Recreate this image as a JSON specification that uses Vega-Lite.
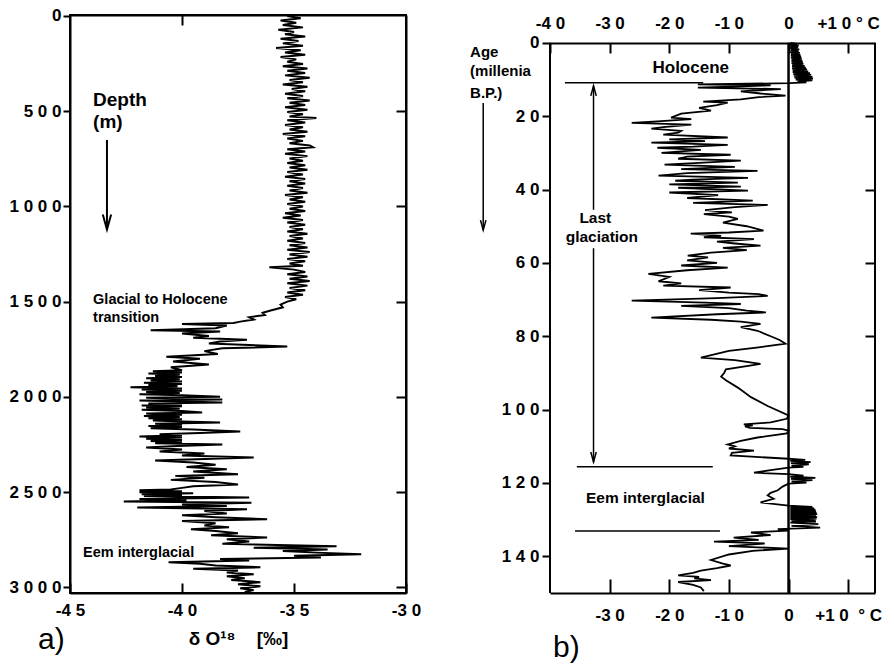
{
  "$schema": "https://vega.github.io/schema/vega-lite/v6.json",
  "background": "white",
  "padding": {"left": 8, "top": 5, "right": 5, "bottom": 2},
  "bounds": "flush",
  "spacing": 144,
  "config": {
    "view": {"stroke": "black", "strokeWidth": 2},
    "axis": {"domainColor": "black", "domainWidth": 2, "tickColor": "black", "tickWidth": 2, "labelColor": "black", "labelFont": "Liberation Sans", "labelFontWeight": "bold", "titleFont": "Liberation Sans", "titleColor": "black", "titleFontWeight": "bold", "grid": false, "labelFlush": false, "labelOverlap": false, "minExtent": 0},
    "text": {"font": "Liberation Sans", "color": "black", "fontWeight": "bold"}
  },
  "hconcat": [
    {
      "width": 336,
      "height": 578,
      "resolve": {"axis": {"x": "independent", "y": "independent"}},
      "layer": [
        {
          "data": {"values": [
            {"depth":0,"d":-35.3},{"depth":12,"d":-34.7},{"depth":24,"d":-35.6},{"depth":36,"d":-34.9},{"depth":48,"d":-35.5},{"depth":60,"d":-34.6},{"depth":72,"d":-35.7},{"depth":84,"d":-35.0},{"depth":96,"d":-35.4},{"depth":108,"d":-34.5},{"depth":120,"d":-35.6},{"depth":132,"d":-34.8},{"depth":144,"d":-35.5},{"depth":156,"d":-34.6},{"depth":168,"d":-35.8},{"depth":180,"d":-34.7},{"depth":192,"d":-35.4},{"depth":204,"d":-34.5},{"depth":216,"d":-35.6},{"depth":228,"d":-34.9},{"depth":240,"d":-35.3},{"depth":252,"d":-34.6},{"depth":264,"d":-35.5},{"depth":276,"d":-34.4},{"depth":288,"d":-35.3},
            {"depth":300,"d":-34.5},{"depth":312,"d":-35.4},{"depth":324,"d":-34.3},{"depth":336,"d":-35.2},{"depth":348,"d":-34.6},{"depth":360,"d":-35.5},{"depth":372,"d":-34.4},{"depth":384,"d":-35.1},{"depth":396,"d":-34.5},{"depth":408,"d":-35.4},{"depth":420,"d":-34.6},{"depth":432,"d":-35.3},{"depth":444,"d":-34.3},{"depth":456,"d":-35.2},{"depth":468,"d":-34.5},{"depth":480,"d":-35.4},{"depth":492,"d":-34.4},{"depth":504,"d":-35.3},{"depth":516,"d":-34.6},{"depth":528,"d":-35.2},{"depth":536,"d":-34.0},{"depth":548,"d":-35.3},{"depth":560,"d":-34.5},{"depth":572,"d":-35.4},{"depth":584,"d":-34.6},{"depth":596,"d":-35.2},{"depth":608,"d":-34.4},{"depth":620,"d":-35.5},{"depth":632,"d":-34.5},{"depth":644,"d":-35.3},{"depth":656,"d":-34.6},{"depth":668,"d":-35.2},{"depth":680,"d":-34.3},{"depth":690,"d":-34.15},{"depth":700,"d":-35.3},{"depth":712,"d":-34.5},{"depth":724,"d":-35.4},{"depth":736,"d":-34.4},{"depth":748,"d":-35.2},{"depth":760,"d":-34.6},{"depth":772,"d":-35.3},{"depth":784,"d":-34.5},{"depth":796,"d":-35.2},{"depth":808,"d":-34.4},{"depth":820,"d":-35.3},{"depth":832,"d":-34.6},{"depth":844,"d":-35.4},{"depth":856,"d":-34.5},{"depth":868,"d":-35.2},{"depth":880,"d":-34.5},{"depth":892,"d":-35.3},{"depth":904,"d":-34.6},{"depth":916,"d":-35.2},{"depth":928,"d":-34.4},{"depth":940,"d":-35.4},{"depth":952,"d":-34.6},{"depth":964,"d":-35.2},{"depth":976,"d":-34.5},{"depth":988,"d":-35.3},{"depth":1000,"d":-34.6},{"depth":1012,"d":-35.2},{"depth":1024,"d":-34.5},{"depth":1036,"d":-35.4},{"depth":1048,"d":-34.7},{"depth":1060,"d":-35.5},{"depth":1072,"d":-34.6},{"depth":1084,"d":-35.3},{"depth":1096,"d":-34.5},{"depth":1108,"d":-35.2},{"depth":1120,"d":-34.6},{"depth":1132,"d":-35.3},{"depth":1144,"d":-34.4},{"depth":1156,"d":-35.2},{"depth":1168,"d":-34.6},{"depth":1180,"d":-35.3},{"depth":1192,"d":-34.5},{"depth":1204,"d":-35.2},{"depth":1216,"d":-34.4},{"depth":1228,"d":-35.3},{"depth":1240,"d":-34.3},{"depth":1252,"d":-35.2},{"depth":1264,"d":-34.4},{"depth":1276,"d":-35.3},{"depth":1288,"d":-34.5},{"depth":1300,"d":-35.2},{"depth":1312,"d":-34.6},{"depth":1320,"d":-36.1},{"depth":1332,"d":-35.0},{"depth":1344,"d":-34.5},{"depth":1356,"d":-35.3},{"depth":1368,"d":-34.4},{"depth":1380,"d":-35.2},{"depth":1392,"d":-34.3},{"depth":1404,"d":-35.3},{"depth":1416,"d":-34.4},{"depth":1428,"d":-35.2},{"depth":1440,"d":-34.5},{"depth":1452,"d":-35.3},{"depth":1464,"d":-34.6},{"depth":1476,"d":-35.4},{"depth":1488,"d":-34.9},{"depth":1500,"d":-35.3},{"depth":1516,"d":-35.6},{"depth":1530,"d":-35.5},{"depth":1545,"d":-36.0},{"depth":1558,"d":-36.4},{"depth":1570,"d":-36.3},{"depth":1582,"d":-37.0},{"depth":1594,"d":-36.8},{"depth":1605,"d":-37.4},{"depth":1612,"d":-37.7},{"depth":1618,"d":-40.0},{"depth":1625,"d":-38.0},{"depth":1640,"d":-38.5},{"depth":1650,"d":-41.4},{"depth":1657,"d":-38.3},{"depth":1668,"d":-40.0},{"depth":1680,"d":-38.8},{"depth":1690,"d":-39.5},{"depth":1700,"d":-37.1},{"depth":1710,"d":-38.3},{"depth":1720,"d":-38.8},{"depth":1736,"d":-35.3},{"depth":1745,"d":-38.2},{"depth":1760,"d":-39.0},{"depth":1775,"d":-38.4},{"depth":1789,"d":-40.7},{"depth":1800,"d":-39.2},{"depth":1815,"d":-40.4},{"depth":1830,"d":-38.8},{"depth":1845,"d":-40.5},
            {"depth":1860,"d":-40.0},{"depth":1866,"d":-41.3},{"depth":1872,"d":-40.0},{"depth":1878,"d":-41.5},{"depth":1884,"d":-40.1},{"depth":1890,"d":-41.2},{"depth":1896,"d":-40.0},{"depth":1902,"d":-41.6},{"depth":1908,"d":-40.1},{"depth":1914,"d":-41.4},{"depth":1920,"d":-40.0},{"depth":1926,"d":-41.7},{"depth":1932,"d":-40.0},{"depth":1938,"d":-41.5},{"depth":1944,"d":-40.2},{"depth":1950,"d":-42.3},{"depth":1956,"d":-40.0},{"depth":1962,"d":-41.8},{"depth":1968,"d":-40.0},{"depth":1974,"d":-41.6},{"depth":1980,"d":-40.1},{"depth":1986,"d":-41.9},{"depth":1992,"d":-40.0},{"depth":2000,"d":-38.3},{"depth":2005,"d":-41.6},{"depth":2010,"d":-40.0},{"depth":2014,"d":-38.2},{"depth":2019,"d":-41.9},{"depth":2024,"d":-40.0},{"depth":2030,"d":-38.2},{"depth":2035,"d":-41.5},{"depth":2040,"d":-40.0},{"depth":2045,"d":-41.8},{"depth":2050,"d":-40.0},{"depth":2056,"d":-41.6},{"depth":2062,"d":-40.1},{"depth":2068,"d":-41.8},{"depth":2074,"d":-40.0},{"depth":2082,"d":-39.1},{"depth":2088,"d":-41.6},{"depth":2094,"d":-40.0},{"depth":2100,"d":-41.7},{"depth":2106,"d":-40.1},{"depth":2112,"d":-41.5},{"depth":2118,"d":-40.0},{"depth":2124,"d":-41.3},{"depth":2130,"d":-40.0},{"depth":2135,"d":-38.3},{"depth":2141,"d":-41.2},{"depth":2147,"d":-40.0},{"depth":2153,"d":-41.5},{"depth":2159,"d":-40.0},{"depth":2165,"d":-41.4},{"depth":2171,"d":-39.5},{"depth":2182,"d":-37.4},{"depth":2190,"d":-39.2},{"depth":2196,"d":-41.0},{"depth":2202,"d":-40.0},{"depth":2208,"d":-41.9},{"depth":2214,"d":-40.0},{"depth":2220,"d":-41.6},{"depth":2226,"d":-40.0},{"depth":2232,"d":-41.4},{"depth":2238,"d":-40.0},{"depth":2244,"d":-41.2},{"depth":2250,"d":-38.2},{"depth":2258,"d":-40.2},{"depth":2266,"d":-41.6},{"depth":2276,"d":-40.0},{"depth":2287,"d":-41.0},{"depth":2298,"d":-39.0},{"depth":2308,"d":-40.0},{"depth":2318,"d":-36.8},{"depth":2326,"d":-39.0},{"depth":2334,"d":-41.2},{"depth":2345,"d":-39.5},{"depth":2356,"d":-38.5},{"depth":2368,"d":-39.8},{"depth":2380,"d":-38.0},{"depth":2392,"d":-39.5},{"depth":2407,"d":-37.5},{"depth":2415,"d":-40.3},{"depth":2425,"d":-39.0},{"depth":2436,"d":-40.5},{"depth":2447,"d":-38.5},{"depth":2460,"d":-37.5},{"depth":2470,"d":-39.5},{"depth":2478,"d":-40.0},{"depth":2486,"d":-40.5},{"depth":2491,"d":-41.9},{"depth":2496,"d":-40.0},{"depth":2501,"d":-41.9},{"depth":2506,"d":-39.5},{"depth":2511,"d":-41.8},{"depth":2516,"d":-40.0},{"depth":2521,"d":-41.7},{"depth":2528,"d":-37.0},{"depth":2536,"d":-41.9},{"depth":2543,"d":-39.8},{"depth":2549,"d":-42.6},{"depth":2556,"d":-36.9},{"depth":2565,"d":-40.0},{"depth":2573,"d":-38.0},{"depth":2581,"d":-42.0},{"depth":2590,"d":-37.1},{"depth":2600,"d":-39.0},{"depth":2612,"d":-38.0},{"depth":2622,"d":-40.0},{"depth":2632,"d":-38.5},{"depth":2643,"d":-36.2},{"depth":2652,"d":-40.0},{"depth":2664,"d":-38.5},{"depth":2675,"d":-39.0},{"depth":2685,"d":-37.9},{"depth":2695,"d":-39.6},{"depth":2705,"d":-38.5},{"depth":2716,"d":-37.5},{"depth":2727,"d":-38.7},{"depth":2738,"d":-36.2},{"depth":2748,"d":-38.0},{"depth":2760,"d":-37.0},{"depth":2772,"d":-38.2},{"depth":2785,"d":-33.1},{"depth":2792,"d":-36.8},{"depth":2801,"d":-33.5},{"depth":2810,"d":-35.5},{"depth":2818,"d":-34.0},{"depth":2827,"d":-32.0},{"depth":2835,"d":-35.0},{"depth":2843,"d":-33.8},{"depth":2852,"d":-38.3},{"depth":2860,"d":-37.0},{"depth":2869,"d":-40.6},{"depth":2877,"d":-39.2},{"depth":2886,"d":-38.5},{"depth":2895,"d":-36.5},{"depth":2903,"d":-39.5},{"depth":2912,"d":-37.5},{"depth":2922,"d":-38.0},{"depth":2932,"d":-36.8},{"depth":2942,"d":-38.0},{"depth":2952,"d":-37.2},{"depth":2962,"d":-37.8},{"depth":2973,"d":-36.5},{"depth":2984,"d":-37.5},{"depth":2995,"d":-36.5},{"depth":3005,"d":-37.4},{"depth":3015,"d":-36.8},{"depth":3025,"d":-37.2}
          ]},
          "mark": {"type": "line", "color": "black", "strokeWidth": 2},
          "encoding": {
            "x": {"field": "d", "type": "quantitative", "scale": {"domain": [-45, -30], "nice": false, "zero": false},
              "axis": {"orient": "bottom", "values": [-45, -40, -35, -30], "labelExpr": "(datum.value<0?'-':'')+join(split(''+abs(datum.value),''),' ')", "tickSize": -10, "labelPadding": 19, "labelFontSize": 17, "title": "δ\u00a0O¹⁸\u00a0\u00a0\u00a0\u00a0[‰]", "titleFontSize": 19, "titlePadding": 11}},
            "y": {"field": "depth", "type": "quantitative", "scale": {"domain": [-5, 3030], "nice": false, "zero": false, "reverse": true},
              "axis": {"orient": "left", "values": [0, 500, 1000, 1500, 2000, 2500, 3000], "labelExpr": "join(split(''+datum.value,''),' ')", "tickSize": 7, "labelPadding": 2, "labelFontSize": 17, "title": null}},
            "order": {"field": "depth", "type": "quantitative"}
          }
        },
        {
          "data": {"values": [{"d": -43.97, "depth": 441, "label": "Depth"}, {"d": -43.97, "depth": 557, "label": "(m)"}]},
          "mark": {"type": "text", "align": "left", "baseline": "middle", "fontSize": 19},
          "encoding": {
            "x": {"field": "d", "type": "quantitative", "scale": {"domain": [-45, -30], "nice": false, "zero": false},
              "axis": {"orient": "top", "values": [-40], "labels": false, "tickSize": -10, "title": null}},
            "y": {"field": "depth", "type": "quantitative", "scale": {"domain": [-5, 3030], "nice": false, "zero": false, "reverse": true},
              "axis": {"orient": "right", "values": [500, 1000, 1500, 2000, 2500, 3000], "labels": false, "tickSize": -10, "title": null}},
            "text": {"field": "label"}
          }
        },
        {
          "data": {"values": [{"d": -43.97, "depth": 1491, "label": "Glacial to Holocene"}, {"d": -43.97, "depth": 1586, "label": "transition"}, {"d": -44.42, "depth": 2820, "label": "Eem interglacial"}]},
          "mark": {"type": "text", "align": "left", "baseline": "middle", "fontSize": 14.5},
          "encoding": {
            "x": {"field": "d", "type": "quantitative", "axis": null},
            "y": {"field": "depth", "type": "quantitative", "axis": null},
            "text": {"field": "label"}
          }
        },
        {
          "data": {"values": [{"d": -46.43, "depth": 3325, "label": "a)"}]},
          "mark": {"type": "text", "align": "left", "baseline": "alphabetic", "fontSize": 30, "fontWeight": "normal"},
          "encoding": {
            "x": {"field": "d", "type": "quantitative", "axis": null},
            "y": {"field": "depth", "type": "quantitative", "axis": null},
            "text": {"field": "label"}
          }
        },
        {
          "data": {"values": [{"d": -43.35, "depth": 651, "depth2": 1124}]},
          "mark": {"type": "rule", "color": "black", "strokeWidth": 2},
          "encoding": {
            "x": {"field": "d", "type": "quantitative", "axis": null},
            "y": {"field": "depth", "type": "quantitative", "axis": null},
            "y2": {"field": "depth2"}
          }
        },
        {
          "data": {"values": [{"d": -43.35, "depth": 1082}]},
          "mark": {"type": "point", "shape": "M-0.55,-1L0,1L0.55,-1", "filled": false, "stroke": "black", "strokeWidth": 2, "size": 230, "opacity": 1},
          "encoding": {
            "x": {"field": "d", "type": "quantitative", "axis": null},
            "y": {"field": "depth", "type": "quantitative", "axis": null}
          }
        }
      ]
    },
    {
      "width": 325,
      "height": 578,
      "view": {"stroke": null},
      "resolve": {"axis": {"x": "independent", "y": "independent"}},
      "layer": [
        {
          "data": {"values": [
            {"age":0,"t":0.3},{"age":0.25,"t":1.5},{"age":0.5,"t":0.2},{"age":0.75,"t":1.7},{"age":1.0,"t":0.3},{"age":1.25,"t":1.6},{"age":1.5,"t":0.3},{"age":1.75,"t":1.8},{"age":2.0,"t":0.4},{"age":2.25,"t":1.7},{"age":2.5,"t":0.3},{"age":2.75,"t":1.9},{"age":3.0,"t":0.4},{"age":3.25,"t":2.0},{"age":3.5,"t":0.4},{"age":3.75,"t":2.1},{"age":4.0,"t":0.4},{"age":4.25,"t":2.2},{"age":4.5,"t":0.5},{"age":4.75,"t":2.3},{"age":5.0,"t":0.5},{"age":5.25,"t":2.4},{"age":5.5,"t":0.5},{"age":5.75,"t":2.5},{"age":6.0,"t":0.6},{"age":6.25,"t":2.7},{"age":6.5,"t":0.6},{"age":6.75,"t":2.9},{"age":7.0,"t":0.6},{"age":7.25,"t":3.1},{"age":7.5,"t":0.7},{"age":7.75,"t":3.3},{"age":8.0,"t":0.7},{"age":8.25,"t":3.6},{"age":8.5,"t":0.8},{"age":8.75,"t":3.8},{"age":9.0,"t":0.9},{"age":9.25,"t":4.0},{"age":9.5,"t":1.0},{"age":9.75,"t":4.1},{"age":10.0,"t":1.2},{"age":10.25,"t":4.0},{"age":10.5,"t":1.5},{"age":10.75,"t":3.0},{"age":11.0,"t":0.2},
            {"age":11.3,"t":-15.2},{"age":11.6,"t":-3},{"age":12.2,"t":-15.2},{"age":12.6,"t":-1.3},{"age":13.2,"t":-8},{"age":13.8,"t":-4.7},{"age":14.4,"t":-0.5},{"age":14.8,"t":-5},{"age":15.4,"t":-8},{"age":16.0,"t":-14.3},{"age":16.3,"t":-10.2},{"age":17.0,"t":-12},{"age":17.7,"t":-15},{"age":18.5,"t":-13},{"age":19.3,"t":-18},{"age":20.4,"t":-19.7},{"age":20.8,"t":-16.3},{"age":21.4,"t":-22},{"age":21.8,"t":-26.3},{"age":22.3,"t":-16.3},{"age":23.0,"t":-21},{"age":23.4,"t":-23},{"age":24.0,"t":-18},{"age":24.5,"t":-18.5},{"age":25.0,"t":-21},{"age":25.8,"t":-10.2},{"age":26.3,"t":-20},{"age":26.8,"t":-14},{"age":27.2,"t":-23},{"age":27.8,"t":-10.2},{"age":28.3,"t":-16},{"age":28.6,"t":-22},{"age":29.2,"t":-14.7},{"age":30.0,"t":-21.3},{"age":30.5,"t":-9.7},{"age":31.0,"t":-17},{"age":31.6,"t":-18.5},{"age":32.1,"t":-8},{"age":32.7,"t":-15},{"age":33.2,"t":-20.8},{"age":33.8,"t":-9},{"age":34.4,"t":-18},{"age":34.9,"t":-5.2},{"age":35.5,"t":-17},{"age":36.2,"t":-21.8},{"age":36.8,"t":-6.8},{"age":37.3,"t":-16},{"age":37.6,"t":-19},{"age":38.1,"t":-8.5},{"age":38.6,"t":-20},{"age":39.2,"t":-8},{"age":39.5,"t":-18.5},{"age":40.3,"t":-6.8},{"age":40.8,"t":-20},{"age":41.5,"t":-11.8},{"age":42.3,"t":-17},{"age":43.0,"t":-6},{"age":43.6,"t":-16},{"age":44.2,"t":-3.5},{"age":44.8,"t":-9},{"age":45.6,"t":-14},{"age":46.2,"t":-9.5},{"age":46.7,"t":-14.2},{"age":47.4,"t":-10},{"age":48.0,"t":-8.5},{"age":49.0,"t":-11},{"age":50.0,"t":-7},{"age":51.2,"t":-4.2},{"age":51.7,"t":-10},{"age":52.0,"t":-16.4},{"age":52.6,"t":-11.3},{"age":53.0,"t":-14.2},{"age":53.5,"t":-5.8},{"age":54.2,"t":-12},{"age":54.7,"t":-9},{"age":55.3,"t":-4.7},{"age":55.9,"t":-11},{"age":56.5,"t":-7},{"age":57.2,"t":-13},{"age":58.0,"t":-16.9},{"age":58.5,"t":-13.5},{"age":59.3,"t":-17},{"age":60.0,"t":-12},{"age":60.7,"t":-18},{"age":61.3,"t":-10.2},{"age":62.0,"t":-17},{"age":63.0,"t":-23.5},{"age":63.8,"t":-20},{"age":64.5,"t":-21},{"age":65.0,"t":-21.8},{"age":65.6,"t":-18},{"age":66.2,"t":-21},{"age":66.7,"t":-9.7},{"age":67.4,"t":-15},{"age":68.1,"t":-10},{"age":68.5,"t":-5},{"age":69.0,"t":-3.5},{"age":69.6,"t":-12},{"age":70.3,"t":-26.3},{"age":70.8,"t":-14},{"age":71.2,"t":-8},{"age":71.7,"t":-18},{"age":72.3,"t":-10},{"age":73.0,"t":-7},{"age":73.5,"t":-3.8},{"age":74.0,"t":-12},{"age":74.9,"t":-23},{"age":75.5,"t":-13},{"age":76.0,"t":-8},{"age":76.6,"t":-4.7},{"age":77.5,"t":-8},{"age":78.5,"t":-5.2},{"age":80.0,"t":-3},{"age":81.0,"t":-1.5},{"age":82.0,"t":-0.5},{"age":83.0,"t":-5},{"age":84.0,"t":-10},{"age":85.8,"t":-14.7},{"age":86.5,"t":-9},{"age":87.5,"t":-4.7},{"age":88.0,"t":-6.5},{"age":89.0,"t":-10.5},{"age":90.0,"t":-10.8},{"age":91.0,"t":-11.3},{"age":92.0,"t":-10.5},{"age":94.0,"t":-8.5},{"age":96.6,"t":-6.3},{"age":99.0,"t":-3.5},{"age":101.6,"t":0},{"age":102.5,"t":-0.3},{"age":103.5,"t":-3},{"age":104.0,"t":-7.5},{"age":104.3,"t":-6},{"age":104.6,"t":-7.3},{"age":105.0,"t":-6.5},{"age":105.3,"t":-1},{"age":105.7,"t":0},{"age":106.5,"t":-0.3},{"age":107.6,"t":-5.2},{"age":108.5,"t":-8},{"age":109.5,"t":-10.2},{"age":110.0,"t":-9},{"age":110.6,"t":-10},{"age":111.2,"t":-5.8},{"age":111.8,"t":-9.5},{"age":112.5,"t":-9.7},{"age":113.4,"t":0},{"age":113.7,"t":2.8},{"age":114.0,"t":0.3},{"age":114.3,"t":3.7},{"age":114.6,"t":0.4},{"age":114.9,"t":3.4},{"age":115.3,"t":0.5},{"age":115.6,"t":2.5},{"age":115.8,"t":0},{"age":116.5,"t":-3},{"age":117.2,"t":-5.8},{"age":117.6,"t":0},{"age":118.0,"t":2.5},{"age":118.3,"t":0.3},{"age":118.6,"t":4.5},{"age":118.9,"t":0.4},{"age":119.2,"t":4.0},{"age":119.6,"t":0.5},{"age":119.9,"t":3.0},{"age":120.2,"t":0},{"age":121.0,"t":-1},{"age":122.0,"t":-1.8},{"age":122.7,"t":-3},{"age":123.4,"t":-3.5},{"age":124.3,"t":-2.5},{"age":125.3,"t":-4.7},{"age":126.2,"t":0},{"age":126.5,"t":4.0},{"age":126.7,"t":0.3},{"age":126.9,"t":4.3},{"age":127.1,"t":0.3},{"age":127.3,"t":4.5},{"age":127.5,"t":0.3},{"age":127.7,"t":4.6},{"age":127.9,"t":0.3},{"age":128.1,"t":4.7},{"age":128.3,"t":0.3},{"age":128.5,"t":4.8},{"age":128.7,"t":0.3},{"age":128.9,"t":4.6},{"age":129.1,"t":0.3},{"age":129.3,"t":4.8},{"age":129.5,"t":0.3},{"age":129.7,"t":4.7},{"age":129.9,"t":0.3},{"age":130.1,"t":4.5},{"age":130.3,"t":0.5},{"age":130.5,"t":4.6},{"age":130.8,"t":0.3},{"age":131.2,"t":5},{"age":131.7,"t":0.5},{"age":132.2,"t":5.3},{"age":132.6,"t":-1.8},{"age":133.0,"t":0},{"age":133.5,"t":-6.3},{"age":134.2,"t":-3},{"age":134.9,"t":-9.2},{"age":135.5,"t":-5},{"age":136.0,"t":-12.5},{"age":136.5,"t":-4},{"age":137.2,"t":-10},{"age":137.9,"t":0},{"age":138.5,"t":-6},{"age":139.5,"t":-10},{"age":141.0,"t":-13},{"age":142.0,"t":-11},{"age":142.5,"t":-9.7},{"age":143.2,"t":-12},{"age":143.9,"t":-14.7},{"age":144.5,"t":-16},{"age":145.2,"t":-18.5},{"age":145.6,"t":-15},{"age":146.0,"t":-15.8},{"age":146.5,"t":-13},{"age":147.0,"t":-18.5},{"age":147.8,"t":-16},{"age":148.5,"t":-14.7},{"age":149.5,"t":-14.2}
          ]},
          "mark": {"type": "line", "color": "black", "strokeWidth": 1.8},
          "encoding": {
            "x": {"field": "t", "type": "quantitative", "scale": {"domain": [-40, 14.5], "nice": false, "zero": false},
              "axis": {"orient": "bottom", "values": [-30, -20, -10, 0, 10], "labelExpr": "datum.value==10 ? '\u00a0\u00a0\u00a0\u00a0\u00a0+1 0\u00a0\u00a0° C' : (datum.value<0?'-':'')+join(split(''+abs(datum.value),''),' ')", "tickSize": -14, "labelPadding": 28, "labelFontSize": 17, "title": null}},
            "y": {"field": "age", "type": "quantitative", "scale": {"domain": [-7.6, 150], "nice": false, "zero": false, "reverse": true},
              "axis": {"orient": "left", "values": [0, 20, 40, 60, 80, 100, 120, 140], "labelExpr": "join(split(''+datum.value,''),' ')", "tickSize": 8, "labelPadding": 3, "labelFontSize": 17, "domain": false, "title": null}},
            "order": {"field": "age", "type": "quantitative"}
          }
        },
        {
          "data": {"values": [{"t": -53.4, "age": 2.5, "label": "Age"}, {"t": -53.4, "age": 7.7, "label": "(millenia"}, {"t": -53.4, "age": 13.7, "label": "B.P.)"}]},
          "mark": {"type": "text", "align": "left", "baseline": "middle", "fontSize": 15},
          "encoding": {
            "x": {"field": "t", "type": "quantitative", "scale": {"domain": [-40, 14.5], "nice": false, "zero": false},
              "axis": {"orient": "top", "offset": -28, "values": [-40, -30, -20, -10, 0, 10], "labelExpr": "datum.value==10 ? '\u00a0\u00a0\u00a0\u00a0+1 0 ° C' : (datum.value<0?'-':'')+join(split(''+abs(datum.value),''),' ')", "tickSize": -10, "labelPadding": 21, "labelFontSize": 17, "title": null}},
            "y": {"field": "age", "type": "quantitative", "scale": {"domain": [-7.6, 150], "nice": false, "zero": false, "reverse": true},
              "axis": {"orient": "right", "values": [20, 40, 60, 80, 100, 120, 140], "labels": false, "tickSize": -10, "domain": false, "title": null}},
            "text": {"field": "label"}
          }
        },
        {
          "data": {"values": [{"t": -16.4, "age": 6.8, "label": "Holocene"}]},
          "mark": {"type": "text", "align": "center", "baseline": "middle", "fontSize": 17},
          "encoding": {
            "x": {"field": "t", "type": "quantitative", "axis": null},
            "y": {"field": "age", "type": "quantitative", "axis": null},
            "text": {"field": "label"}
          }
        },
        {
          "data": {"values": [{"t": -32.4, "age": 47.8, "label": "Last"}, {"t": -31.3, "age": 52.9, "label": "glaciation"}, {"t": -24, "age": 124.1, "label": "Eem interglacial"}]},
          "mark": {"type": "text", "align": "center", "baseline": "middle", "fontSize": 15.5},
          "encoding": {
            "x": {"field": "t", "type": "quantitative", "axis": null},
            "y": {"field": "age", "type": "quantitative", "axis": null},
            "text": {"field": "label"}
          }
        },
        {
          "data": {"values": [{"t": -39.5, "age": 167.4, "label": "b)"}]},
          "mark": {"type": "text", "align": "left", "baseline": "alphabetic", "fontSize": 30, "fontWeight": "normal"},
          "encoding": {
            "x": {"field": "t", "type": "quantitative", "axis": null},
            "y": {"field": "age", "type": "quantitative", "axis": null},
            "text": {"field": "label"}
          }
        },
        {
          "data": {"values": [{"t": -40, "age": 0, "age2": 150}, {"t": 14.5, "age": 0, "age2": 150}]},
          "mark": {"type": "rule", "color": "black", "strokeWidth": 2},
          "encoding": {
            "x": {"field": "t", "type": "quantitative", "axis": null},
            "y": {"field": "age", "type": "quantitative", "axis": null},
            "y2": {"field": "age2"}
          }
        },
        {
          "data": {"values": [{"t": 0, "age": 0, "age2": 150}]},
          "mark": {"type": "rule", "color": "black", "strokeWidth": 2.5},
          "encoding": {
            "x": {"field": "t", "type": "quantitative", "axis": null},
            "y": {"field": "age", "type": "quantitative", "axis": null},
            "y2": {"field": "age2"}
          }
        },
        {
          "data": {"values": [{"t": -51.2, "age": 16.4, "age2": 51}, {"t": -32.7, "age": 11.7, "age2": 45.5}, {"t": -32.7, "age": 56, "age2": 114.4}]},
          "mark": {"type": "rule", "color": "black", "strokeWidth": 1.5},
          "encoding": {
            "x": {"field": "t", "type": "quantitative", "axis": null},
            "y": {"field": "age", "type": "quantitative", "axis": null},
            "y2": {"field": "age2"}
          }
        },
        {
          "data": {"values": [{"t": -37.5, "t2": -14.3, "age": 10.9}, {"t": -35.5, "t2": -12.7, "age": 115.6}, {"t": -35.8, "t2": -11.5, "age": 133.1}]},
          "mark": {"type": "rule", "color": "black", "strokeWidth": 1.5},
          "encoding": {
            "x": {"field": "t", "type": "quantitative", "axis": null},
            "x2": {"field": "t2"},
            "y": {"field": "age", "type": "quantitative", "axis": null}
          }
        },
        {
          "data": {"values": [{"t": -51.2, "age": 49.7}, {"t": -32.7, "age": 112.9}]},
          "mark": {"type": "point", "shape": "M-0.55,-1L0,1L0.55,-1", "filled": false, "stroke": "black", "strokeWidth": 1.5, "size": 100, "opacity": 1},
          "encoding": {
            "x": {"field": "t", "type": "quantitative", "axis": null},
            "y": {"field": "age", "type": "quantitative", "axis": null}
          }
        },
        {
          "data": {"values": [{"t": -32.7, "age": 13.1}]},
          "mark": {"type": "point", "shape": "M-0.55,1L0,-1L0.55,1", "filled": false, "stroke": "black", "strokeWidth": 1.5, "size": 100, "opacity": 1},
          "encoding": {
            "x": {"field": "t", "type": "quantitative", "axis": null},
            "y": {"field": "age", "type": "quantitative", "axis": null}
          }
        }
      ]
    }
  ]
}
